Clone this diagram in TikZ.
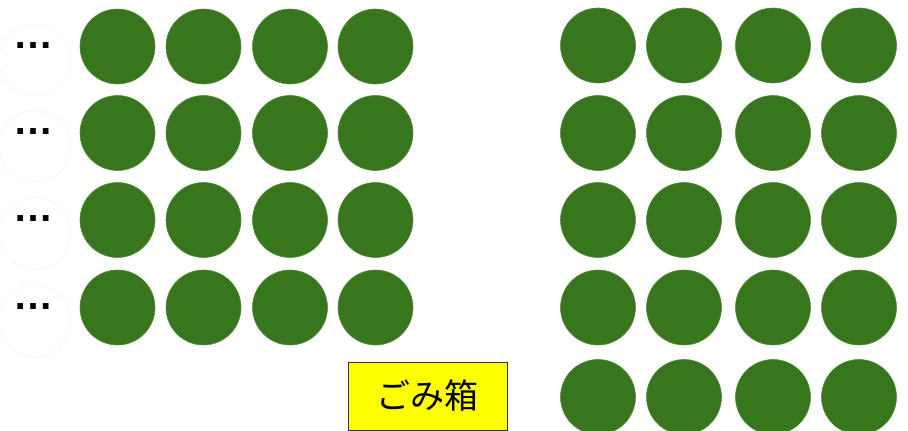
\documentclass[tikz,border=0pt]{standalone}
\usepackage{fontspec}
\newfontfamily\jpfont{Noto Sans CJK JP}
\newfontfamily\dotfont{Liberation Sans}
\usetikzlibrary{positioning}
\definecolor{LeafGreen}{HTML}{38761D}
\definecolor{BinYellow}{HTML}{FFFF00}
\definecolor{GhostEdge}{HTML}{F6F6F6}

\begin{document}
\begin{tikzpicture}[
  x=1pt,y=-1pt,
  ball/.style={circle,fill=LeafGreen,draw=LeafGreen!85!white,line width=0.6pt,
    minimum size=75pt,inner sep=0pt},
  ghost/.style={circle,draw=GhostEdge,fill=white,line width=0.8pt,
    minimum size=72pt,inner sep=0pt},
  more/.style={font=\dotfont\bfseries\fontsize{40}{42}\selectfont,inner sep=0pt},
  bin/.style={draw=black!80,fill=BinYellow,line width=0.7pt,
    minimum width=159pt,minimum height=68pt,inner sep=0pt,
    font=\jpfont\fontsize{34}{38}\selectfont}
]
\useasboundingbox (0,0) rectangle (908,431);

% Left block: four rows that continue to the left.
\foreach \r/\y in {1/46.5,2/133,3/220,4/307.5}{
  \node[ghost] (g\r) at (35,\y+13.5) {};
  \node[more] (d\r) at (33,\y-1) {…};
  \foreach \c/\x in {1/117.5,2/203.5,3/290,4/375.5}
    \node[ball] (l\r\c) at (\x,\y) {};
}

% Right block: five rows of four.
\foreach \r/\y in {1/45.5,2/133,3/220,4/307.5,5/397}
  \foreach \c/\x in {1/598,2/684,3/773,4/859}
    \node[ball] (r\r\c) at (\x,\y) {};

% Trash bin between the blocks.
\node[bin] (trash) at (427.5,396) {ごみ箱};

\end{tikzpicture}
\end{document}
